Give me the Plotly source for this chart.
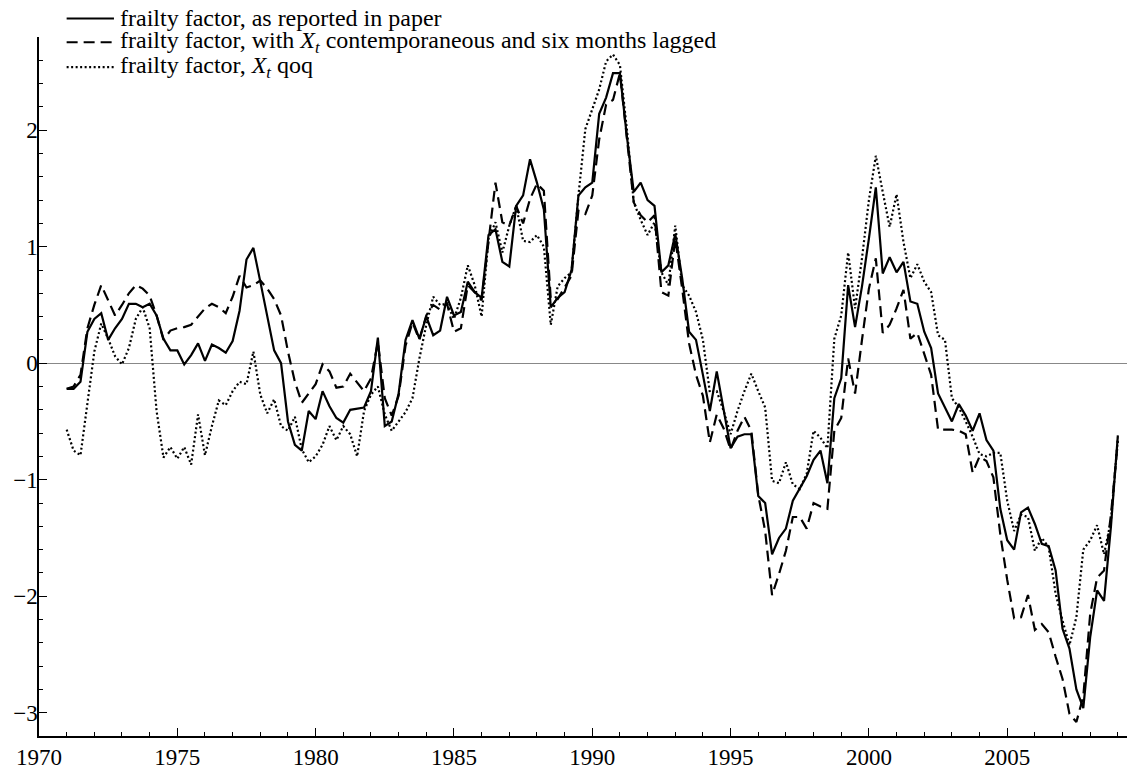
import numpy as np
import plotly.graph_objects as go

# Quarterly observations, 1971Q1 .. 2009Q1
start_year = 1971.0
step = 0.25

reported = [
    -0.22, -0.22, -0.16, 0.27, 0.38, 0.43, 0.20, 0.30, 0.38, 0.51,
    0.51, 0.48, 0.51, 0.41, 0.21, 0.11, 0.11, -0.01, 0.07, 0.17,
    0.02, 0.16, 0.13, 0.09, 0.19, 0.45, 0.89, 0.99, 0.70, 0.41,
    0.11, 0.00, -0.50, -0.70, -0.75, -0.41, -0.48, -0.24, -0.37, -0.47,
    -0.51, -0.40, -0.39, -0.38, -0.24, 0.22, -0.54, -0.50, -0.26, 0.20,
    0.37, 0.21, 0.40, 0.24, 0.28, 0.57, 0.41, 0.44, 0.70, 0.61,
    0.56, 1.10, 1.15, 0.87, 0.83, 1.35, 1.44, 1.75, 1.55, 1.32,
    0.48, 0.56, 0.61, 0.80, 1.44, 1.51, 1.55, 2.14, 2.28, 2.49,
    2.49, 1.95, 1.47, 1.55, 1.40, 1.35, 0.78, 0.84, 1.11, 0.73,
    0.27, 0.20, -0.10, -0.41, -0.07, -0.41, -0.73, -0.63, -0.61, -0.61,
    -1.14, -1.20, -1.64, -1.50, -1.42, -1.18, -1.07, -0.97, -0.83, -0.75,
    -1.03, -0.30, -0.13, 0.67, 0.31, 0.66, 1.07, 1.51, 0.77, 0.91,
    0.78, 0.87, 0.53, 0.51, 0.27, 0.13, -0.26, -0.38, -0.50, -0.35,
    -0.45, -0.58, -0.43, -0.66, -0.75, -1.25, -1.52, -1.60, -1.28, -1.24,
    -1.38, -1.55, -1.57, -1.78, -2.28, -2.45, -2.80, -2.96, -2.35, -1.95,
    -2.04, -1.40, -0.62,
]

lagged = [
    -0.22, -0.20, -0.10, 0.30, 0.50, 0.67, 0.54, 0.41, 0.50, 0.60,
    0.67, 0.64, 0.58, 0.41, 0.20, 0.28, 0.30, 0.31, 0.33, 0.40,
    0.47, 0.51, 0.48, 0.43, 0.57, 0.75, 0.65, 0.67, 0.71, 0.64,
    0.55, 0.41, 0.10, -0.16, -0.34, -0.26, -0.18, -0.01, -0.07, -0.21,
    -0.20, -0.09, -0.17, -0.24, -0.13, 0.18, -0.30, -0.45, -0.28, 0.15,
    0.35, 0.20, 0.41, 0.50, 0.46, 0.51, 0.27, 0.30, 0.67, 0.61,
    0.54, 1.07, 1.55, 1.21, 1.18, 1.35, 1.20, 1.41, 1.54, 1.48,
    0.55, 0.55, 0.65, 0.75, 1.31, 1.28, 1.44, 1.92, 2.22, 2.26,
    2.49, 1.92, 1.38, 1.27, 1.21, 1.27, 0.61, 0.58, 1.07, 0.64,
    0.17, -0.10, -0.28, -0.68, -0.44, -0.56, -0.74, -0.58, -0.46, -0.58,
    -1.13, -1.44, -1.99, -1.81, -1.61, -1.32, -1.32, -1.42, -1.20, -1.23,
    -1.25, -0.58, -0.47, 0.04, -0.26, 0.20, 0.64, 0.90, 0.26, 0.33,
    0.47, 0.63, 0.21, 0.26, 0.07, -0.10, -0.57, -0.57, -0.57, -0.58,
    -0.61, -0.94, -0.80, -0.84, -0.98, -1.47, -1.86, -2.19, -2.18, -1.99,
    -2.29, -2.24, -2.31, -2.52, -2.71, -3.01, -3.08, -2.86, -2.15, -1.84,
    -1.78, -1.30, -0.67,
]

qoq = [
    -0.57, -0.75, -0.79, -0.36, 0.10, 0.34, 0.21, 0.06, -0.01, 0.13,
    0.38, 0.48, 0.30, -0.41, -0.81, -0.72, -0.82, -0.72, -0.87, -0.44,
    -0.79, -0.54, -0.32, -0.36, -0.24, -0.16, -0.18, 0.10, -0.27, -0.43,
    -0.31, -0.54, -0.58, -0.46, -0.74, -0.85, -0.80, -0.70, -0.54, -0.66,
    -0.54, -0.61, -0.80, -0.41, -0.27, -0.20, -0.44, -0.58, -0.50, -0.42,
    -0.30, 0.04, 0.33, 0.57, 0.50, 0.51, 0.38, 0.56, 0.84, 0.67,
    0.40, 1.07, 1.21, 0.95, 1.18, 1.35, 1.05, 1.04, 1.10, 1.00,
    0.33, 0.66, 0.73, 0.78, 1.44, 2.01, 2.18, 2.35, 2.59, 2.65,
    2.56, 2.01, 1.38, 1.23, 1.10, 1.21, 0.78, 0.67, 1.18, 0.67,
    0.58, 0.44, 0.20, -0.25, -0.24, -0.41, -0.61, -0.41, -0.24, -0.09,
    -0.24, -0.38, -1.01, -1.03, -0.85, -1.04, -1.08, -0.95, -0.58, -0.64,
    -0.73, 0.21, 0.41, 0.95, 0.47, 0.90, 1.40, 1.78, 1.47, 1.17,
    1.45, 1.04, 0.73, 0.85, 0.70, 0.61, 0.24, 0.20, -0.30, -0.38,
    -0.50, -0.63, -0.78, -0.80, -0.77, -0.77, -1.18, -1.44, -1.30, -1.32,
    -1.61, -1.50, -1.58, -1.98, -2.21, -2.42, -2.18, -1.60, -1.52, -1.39,
    -1.64, -1.35, -0.64,
]

dates = start_year + step * np.arange(len(reported))

series_names = [
    "frailty factor, as reported in paper",
    "frailty factor, with <i>X</i><sub><i>t</i></sub> contemporaneous and six months lagged",
    "frailty factor, <i>X</i><sub><i>t</i></sub> qoq",
]
series_values = [reported, lagged, qoq]
series_dash = ["solid", "11px,6px", "2px,2.5px"]

serif = "Liberation Serif, Times New Roman, serif"
line_w = 2.2

fig = go.Figure()
for name, vals, dash in zip(series_names, series_values, series_dash):
    fig.add_trace(go.Scatter(x=dates, y=vals, mode="lines", name=name,
                             showlegend=False,
                             line=dict(color="black", width=line_w, dash=dash)))

# Key in the upper-left corner: a short line sample followed by its label
key_rows_y = [1.0265, 0.9925, 0.957]
for name, dash, ky in zip(series_names, series_dash, key_rows_y):
    fig.add_shape(type="line", xref="paper", yref="paper",
                  x0=0.0254, x1=0.0689, y0=ky, y1=ky,
                  line=dict(color="black", width=line_w, dash=dash))
    fig.add_annotation(xref="paper", yref="paper", x=0.0735, y=ky,
                       xanchor="left", yanchor="middle", text=name,
                       showarrow=False, align="left", borderpad=0,
                       font=dict(family=serif, size=24, color="black"))

fig.update_layout(
    width=1128, height=771,
    margin=dict(l=39, r=1, t=37, b=31),
    paper_bgcolor="white", plot_bgcolor="white",
    font=dict(family=serif, size=23, color="black"),
    showlegend=False,
)

fig.update_xaxes(
    range=[1970, 2009.33], showgrid=False, zeroline=False,
    showline=True, linecolor="black", linewidth=1.5,
    ticks="inside", ticklen=8, tickwidth=1.2, tickcolor="black",
    tick0=1970, dtick=5, tickformat="d",
    minor=dict(ticks="inside", ticklen=4, tickwidth=1, tickcolor="black", dtick=1),
    tickfont=dict(family=serif, size=23),
)
fig.update_yaxes(
    range=[-3.2, 2.8], showgrid=False,
    zeroline=True, zerolinecolor="#888888", zerolinewidth=1,
    showline=True, linecolor="black", linewidth=1.5,
    ticks="inside", ticklen=8, tickwidth=1.2, tickcolor="black",
    tick0=0, dtick=1, ticklabelstandoff=-5,
    minor=dict(ticks="inside", ticklen=4, tickwidth=1, tickcolor="black", dtick=0.2),
    tickfont=dict(family=serif, size=23),
)

fig.write_html("out.html")
